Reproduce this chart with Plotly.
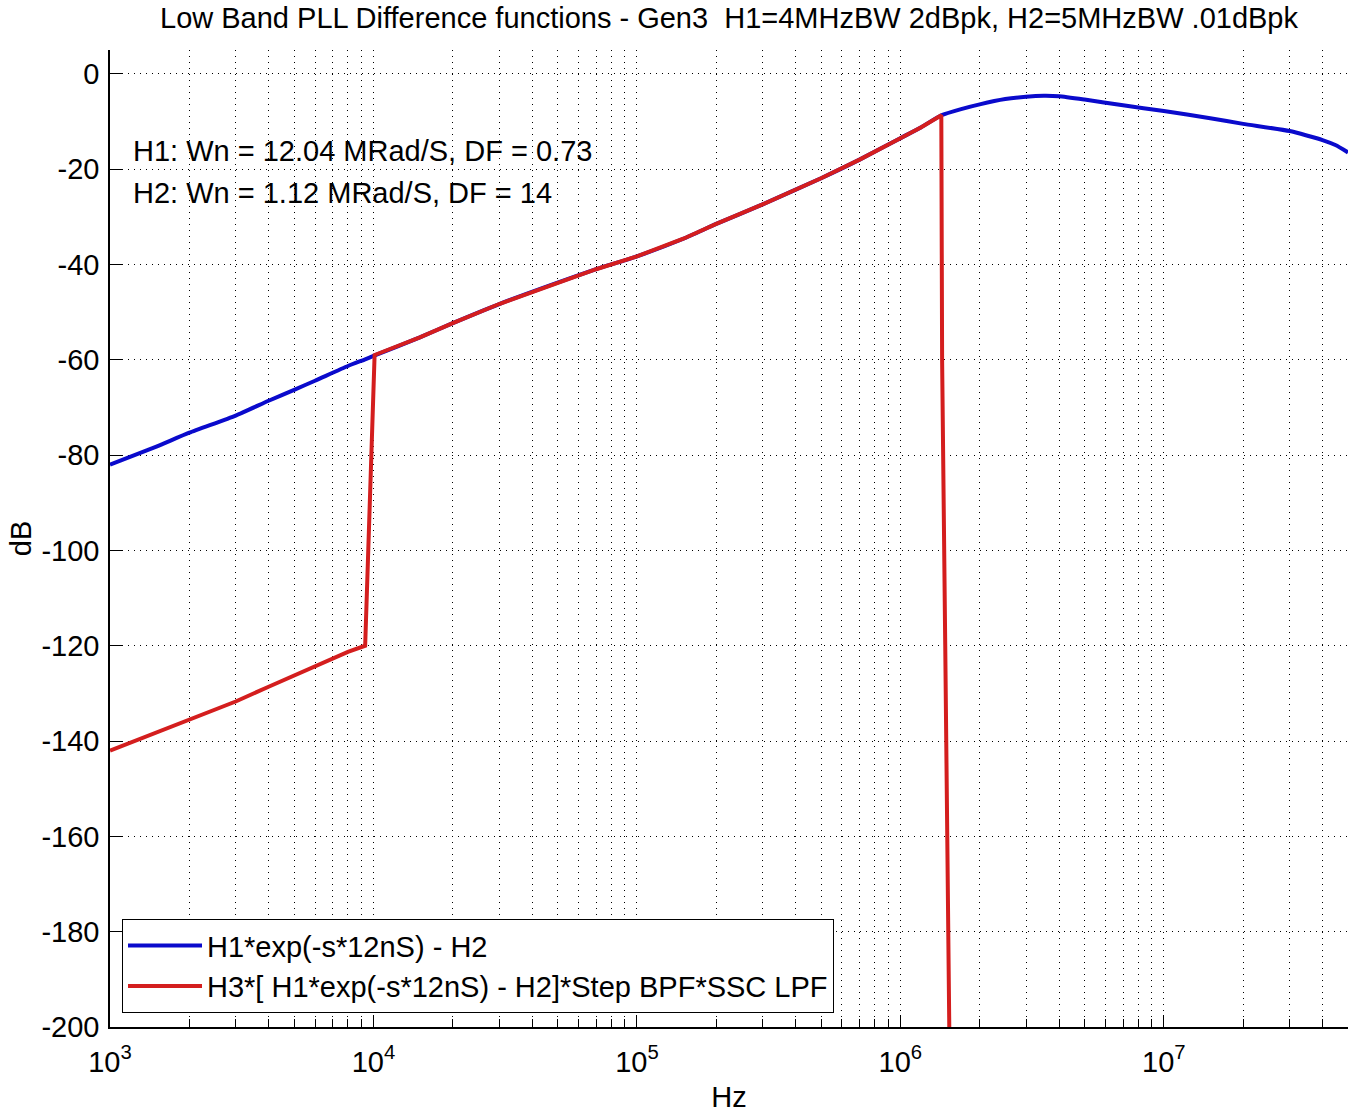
import plotly.graph_objects as go

# ---- data ----
blue_freq = [1e3, 1.5e3, 2e3, 3e3, 4e3, 5e3, 6e3, 8e3, 9.3e3, 1e4, 1.5e4, 2e4, 3e4, 5e4, 7e4, 1e5,
             1.5e5, 2e5, 3e5, 5e5, 7e5, 1e6, 1.2e6, 1.43e6, 1.7e6, 2e6, 2.5e6, 3e6, 3.5e6, 4e6,
             5e6, 7e6, 1e7, 1.5e7, 2e7, 3e7, 4e7, 4.5e7, 5e7]
blue_db = [-82, -78.2, -75.3, -71.7, -68.6, -66.3, -64.4, -61.3, -59.9, -59.2, -55.3, -52.3,
           -48.3, -43.8, -41.0, -38.3, -34.6, -31.5, -27.4, -21.9, -18.0, -13.5, -11.2,
           -8.7, -7.4, -6.4, -5.3, -4.8, -4.6, -4.7, -5.4, -6.6, -7.8, -9.3, -10.5,
           -12.0, -13.9, -15.0, -16.5]

red_freq = [1e3, 1.5e3, 2e3, 3e3, 4e3, 5e3, 6e3, 8e3, 9.3e3, 9.57e3, 9.86e3, 1.01e4, 1.5e4,
            2e4, 3e4, 5e4, 7e4, 1e5, 1.5e5, 2e5, 3e5, 5e5, 7e5, 1e6, 1.2e6, 1.43e6, 1.44e6,
            1.48e6, 1.53e6, 1.54e6]
red_db = [-142, -138.2, -135.3, -131.7, -128.6, -126.3, -124.4, -121.3, -120.0, -100, -80,
          -59.0, -55.3, -52.3, -48.3, -43.8, -41.0, -38.3, -34.6, -31.5, -27.4, -21.9,
          -18.0, -13.5, -11.2, -8.7, -60, -120, -200, -210]

series_names = ["H1*exp(-s*12nS) - H2", "H3*[ H1*exp(-s*12nS) - H2]*Step BPF*SSC LPF"]
title_text = "Low Band PLL Difference functions - Gen3  H1=4MHzBW 2dBpk, H2=5MHzBW .01dBpk"
notes = ["H1: Wn = 12.04 MRad/S, DF = 0.73", "H2: Wn = 1.12 MRad/S, DF = 14"]

x_major = [1e3, 1e4, 1e5, 1e6, 1e7]
x_major_text = ["10<sup>3</sup>", "10<sup>4</sup>", "10<sup>5</sup>", "10<sup>6</sup>", "10<sup>7</sup>"]
x_minor = [m * d for d in [1e3, 1e4, 1e5, 1e6, 1e7] for m in range(2, 10) if m * d <= 5e7]
y_ticks = list(range(0, -201, -20))
y_tick_text = [str(v) for v in y_ticks]

FONT = "Arial, Liberation Sans, Helvetica, sans-serif"
BLUE = "#0a0acc"
RED = "#d41e1e"

fig = go.Figure()
fig.add_trace(go.Scatter(x=blue_freq, y=blue_db, mode="lines", name=series_names[0],
                         line=dict(color=BLUE, width=4, shape="spline", smoothing=0.5)))
fig.add_trace(go.Scatter(x=red_freq, y=red_db, mode="lines", name=series_names[1],
                         line=dict(color=RED, width=4)))

fig.update_layout(
    width=1354, height=1113,
    margin=dict(l=110, r=6, t=50, b=86),
    paper_bgcolor="white", plot_bgcolor="white",
    font=dict(family=FONT, size=29, color="black"),
    title=dict(text=title_text, x=0.5, xref="paper", xanchor="center",
               y=1 - 18 / 1113, yref="container", yanchor="middle",
               font=dict(size=29, family=FONT, color="black")),
    showlegend=True,
    legend=dict(x=0.0097, y=0.0143, xanchor="left", yanchor="bottom",
                bgcolor="white", bordercolor="black", borderwidth=1,
                font=dict(size=29, family=FONT), tracegroupgap=0, itemwidth=74),
)

fig.update_xaxes(
    type="log", range=[3, 7.69897], automargin=False,
    tickmode="array", tickvals=x_major, ticktext=x_major_text,
    ticks="inside", ticklen=12, tickcolor="black", tickwidth=1,
    ticklabelstandoff=8,
    showline=True, linecolor="black", linewidth=1.5, mirror=False,
    showgrid=True, gridcolor="black", gridwidth=1, griddash="1px,5px",
    minor=dict(tickmode="array", tickvals=x_minor, ticks="inside", ticklen=8,
               tickcolor="black", showgrid=True, gridcolor="black", griddash="1px,5px"),
    zeroline=False,
    title=dict(text="Hz", standoff=10, font=dict(size=29)),
    tickfont=dict(size=29),
)
fig.update_yaxes(
    range=[-200, 5], automargin=False,
    tickmode="array", tickvals=y_ticks, ticktext=y_tick_text,
    ticks="inside", ticklen=13, tickcolor="black", tickwidth=1,
    ticklabelstandoff=3,
    showline=True, linecolor="black", linewidth=1.5, mirror=False,
    showgrid=True, gridcolor="black", gridwidth=1, griddash="1px,5px",
    zeroline=False,
    title=dict(text="dB", standoff=1, font=dict(size=29)),
    tickfont=dict(size=29),
)

for i, t in enumerate(notes):
    fig.add_annotation(text=t, xref="paper", yref="paper",
                       x=0.017, y=[0.8966, 0.8536][i], xanchor="left", yanchor="middle",
                       showarrow=False, font=dict(size=29, family=FONT, color="black"))

fig.write_html("out.html", config={"displayModeBar": False},
               post_script="document.body.style.margin='0';document.body.style.padding='0';")
